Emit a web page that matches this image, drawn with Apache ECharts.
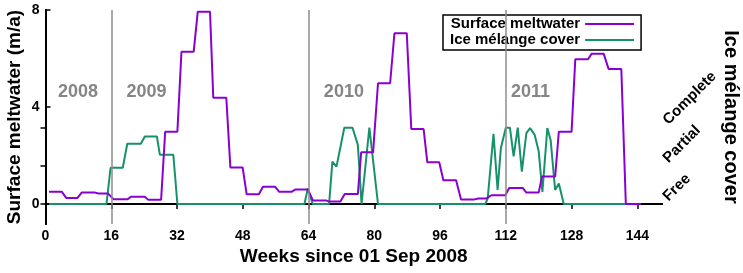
<!DOCTYPE html>
<html>
<head>
    <meta charset="UTF-8">
    <script src="https://cdn.jsdelivr.net/npm/echarts@6/dist/echarts.min.js"></script>
    <style>
        html, body { margin: 0; padding: 0; background: #fff; }
    </style>
</head>
<body>
<div id="main" style="width: 743px;height:273px;"></div>
<script>
    // surface meltwater (m/a)
    var meltWeeks = [0.86, 3.94, 5.03, 7.8, 8.79, 12.06, 12.86, 15.24, 16.53, 20.0, 20.79, 24.16, 24.95, 28.13,
        29.12, 32.09, 33.08, 36.06, 37.05, 40.03, 40.82, 43.99, 44.98, 47.96, 48.95, 51.92, 52.91, 55.89,
        56.88, 59.86, 60.85, 63.82, 65.1, 68.4, 69.0, 71.75, 72.8, 76.0, 76.8, 79.7, 80.9, 83.85, 84.9, 87.9,
        89.0, 92.0, 92.9, 95.8, 96.8, 99.9, 101.1, 104.4, 105.3, 107.3, 108.5, 111.9, 112.8, 116.1, 117.0,
        120.0, 120.8, 124.0, 124.9, 128.0, 128.9, 132.0, 132.9, 135.8, 137.0, 140.1, 141.2, 144.9];
    var meltValues = [0.51, 0.51, 0.25, 0.25, 0.47, 0.47, 0.43, 0.43, 0.2, 0.2, 0.3, 0.3, 0.18, 0.18,
        2.98, 2.98, 6.28, 6.28, 7.93, 7.93, 4.38, 4.38, 1.51, 1.51, 0.4, 0.4, 0.71, 0.71,
        0.5, 0.5, 0.6, 0.6, 0.14, 0.14, 0.1, 0.1, 0.41, 0.41, 2.13, 2.13, 4.98, 4.98, 7.04, 7.04,
        3.09, 3.09, 1.72, 1.72, 0.98, 0.98, 0.19, 0.19, 0.23, 0.23, 0.36, 0.36, 0.66, 0.66, 0.47,
        0.47, 1.13, 1.13, 2.98, 2.98, 5.97, 5.97, 6.2, 6.2, 5.57, 5.57, 0, 0];

    // ice melange cover: 0 = free, 1 = partial, 2 = complete
    var iceWeeks = [0.86, 14.84, 15.83, 18.8, 19.9, 23.2, 24.16, 27.1, 27.83, 31.1, 32.09,
        63.0, 63.82, 65.0, 69.0, 69.8, 70.8, 72.7, 74.7, 76.0, 76.9, 78.8, 80.9,
        107.0, 107.6, 109.0, 110.0, 110.8, 112.0, 113.0, 113.9, 114.9, 115.9, 117.0, 117.9,
        119.0, 120.0, 120.9, 122.1, 122.9, 124.0, 124.9, 126.1, 144.4];
    var iceLevels = [0, 0, 0.95, 0.95, 1.58, 1.58, 1.77, 1.77, 1.29, 1.29, 0,
        0, 0.41, 0, 0, 1.11, 0.98, 2.0, 2.0, 1.55, 0, 2.0, 0,
        0, 0.15, 1.84, 0.37, 1.47, 2.0, 2.0, 1.25, 2.0, 0.85, 1.86, 1.99,
        1.82, 1.38, 0.32, 1.99, 1.68, 0.37, 0.54, 0, 0];

    var weekTicks = [0, 16, 32, 48, 64, 80, 96, 112, 128, 144];
    var meltTicks = [0, 4, 8];
    var coverTicks = [0, 1, 2];
    var coverLabels = ['Free', 'Partial', 'Complete'];
    var yearStarts = [16, 64, 112];
    var yearWeeks = [7.9, 24.6, 72.6, 118.0];
    var yearLabels = ['2008', '2009', '2010', '2011'];
    var yearLevel = 4.62;

    var purple = '#8a00d2';
    var green = '#17916a';
    var font = 'Liberation Sans, Arial, sans-serif';

    var meltData = meltWeeks.map(function (w, i) { return [w, meltValues[i]]; });
    var iceData = iceWeeks.map(function (w, i) { return [w, iceLevels[i]]; });
    var yearData = yearWeeks.map(function (w, i) { return [w, yearLevel, yearLabels[i]]; });

    var myChart = echarts.init(document.getElementById('main'));
    var option = {
        animation: false,
        backgroundColor: '#fff',
        grid: {left: 45.5, right: 81, top: 10, bottom: 49, containLabel: false, outerBoundsMode: 'none'},
        legend: {
            data: [
                {name: 'Surface meltwater', icon: 'rect'},
                {name: 'Ice mélange cover', icon: 'rect'}
            ],
            orient: 'vertical',
            align: 'right',
            left: 443,
            top: 15,
            padding: [1, 7, 2, 7],
            itemGap: 0,
            itemWidth: 49,
            itemHeight: 2,
            borderColor: '#000',
            borderWidth: 1.5,
            borderRadius: 0,
            backgroundColor: '#fff',
            textStyle: {fontFamily: font, fontWeight: 'bold', fontSize: 15, color: '#000', lineHeight: 16}
        },
        xAxis: [
            {
                type: 'value',
                min: 0,
                max: 150,
                interval: 16,
                name: 'Weeks since 01 Sep 2008',
                nameLocation: 'middle',
                nameGap: 23,
                nameMoveOverlap: false,
                nameTextStyle: {fontFamily: font, fontWeight: 'bold', fontSize: 19, color: '#000'},
                axisLine: {lineStyle: {color: '#000', width: 2}},
                axisTick: {show: false},
                axisLabel: {customValues: weekTicks, fontFamily: font, fontWeight: 'bold', fontSize: 14, color: '#000', margin: 5},
                splitLine: {show: false}
            },
            {
                type: 'value',
                position: 'top',
                min: 0,
                max: 150,
                interval: 16,
                axisLine: {lineStyle: {color: '#000', width: 2}},
                axisTick: {inside: true, length: 5, customValues: weekTicks, lineStyle: {color: '#000', width: 1.5}},
                axisLabel: {show: false},
                splitLine: {show: false}
            }
        ],
        yAxis: [
            {
                type: 'value',
                min: -0.825,
                max: 8,
                name: 'Surface meltwater (m/a)',
                nameLocation: 'middle',
                nameGap: 21,
                nameMoveOverlap: false,
                nameTextStyle: {fontFamily: font, fontWeight: 'bold', fontSize: 19, color: '#000'},
                axisLine: {show: true, lineStyle: {color: '#000', width: 2}},
                axisTick: {inside: true, length: 5, customValues: meltTicks, lineStyle: {color: '#000', width: 1.5}},
                axisLabel: {customValues: meltTicks, fontFamily: font, fontWeight: 'bold', fontSize: 14, color: '#000', margin: 6},
                splitLine: {show: false}
            },
            {
                type: 'value',
                position: 'right',
                min: -0.524,
                max: 5.085,
                name: 'Ice mélange cover',
                nameLocation: 'middle',
                nameRotate: -90,
                nameGap: 59,
                nameMoveOverlap: false,
                nameTextStyle: {fontFamily: font, fontWeight: 'bold', fontSize: 20, color: '#000'},
                axisLine: {show: true, lineStyle: {color: '#000', width: 2}},
                axisTick: {inside: true, length: 5, customValues: coverTicks, lineStyle: {color: '#000', width: 1.5}},
                axisLabel: {
                    customValues: coverTicks,
                    rotate: 45,
                    margin: 9,
                    align: 'left',
                    verticalAlign: 'bottom',
                    fontFamily: font, fontWeight: 'bold', fontSize: 15, color: '#000',
                    formatter: function (v) { return coverLabels[Math.round(v)]; }
                },
                splitLine: {show: false}
            }
        ],
        series: [
            {
                name: 'Surface meltwater',
                type: 'line',
                data: meltData,
                symbol: 'none',
                z: 3,
                lineStyle: {color: purple, width: 2},
                itemStyle: {color: purple},
                markLine: {
                    silent: true,
                    symbol: 'none',
                    label: {show: false},
                    lineStyle: {color: '#8c8c8c', width: 1.5, type: 'solid'},
                    data: yearStarts.map(function (w) { return {xAxis: w}; })
                }
            },
            {
                name: 'Ice mélange cover',
                type: 'line',
                yAxisIndex: 1,
                data: iceData,
                symbol: 'none',
                z: 2,
                lineStyle: {color: green, width: 2},
                itemStyle: {color: green}
            },
            {
                name: 'years',
                type: 'scatter',
                data: yearData,
                symbolSize: 0,
                silent: true,
                label: {
                    show: true,
                    position: 'inside',
                    formatter: function (p) { return p.data[2]; },
                    fontFamily: font, fontWeight: 'bold', fontSize: 18, color: '#666'
                }
            }
        ]
    };
    myChart.setOption(option);
</script>
</body>
</html>
